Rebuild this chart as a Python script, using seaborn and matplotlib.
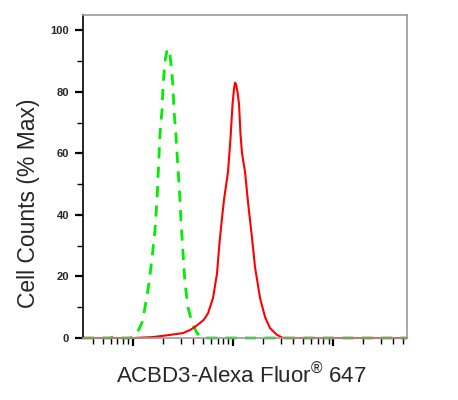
import matplotlib
matplotlib.use("Agg")
import matplotlib.pyplot as plt
from matplotlib.ticker import LogLocator, MultipleLocator, NullFormatter
import seaborn as sns
import pandas as pd

# isotype control (green, dashed)
ctrl_x = [31.6, 59, 66, 74, 93, 100, 110, 123, 132, 145, 155, 166, 174, 178, 186, 195,
          200, 209, 219, 224, 234, 245, 251, 257, 269, 282, 295, 302, 316, 331, 355,
          389, 437, 490, 661, 55000]
ctrl_y = [0, 0, 0.5, 0, 0, 0.3, 1.6, 4.9, 10, 18, 26, 35, 45, 52, 66, 74,
          82, 90, 93.5, 94, 92.5, 86, 82, 74, 66, 55, 45, 38, 28, 18, 10,
          4.9, 1.6, 0, 0, 0]

# ACBD3 stained sample (red)
acbd3_x = [31.6, 100, 158, 234, 316, 372, 417, 468, 513, 562, 631, 692, 733, 776, 813,
           891, 944, 989, 1023, 1047, 1072, 1109, 1148, 1189, 1230, 1318, 1413, 1531,
           1660, 1862, 2089, 2344, 2754, 3162, 55000]
acbd3_y = [0, 0, 0.3, 1, 1.6, 2.6, 3.6, 4.9, 6, 8, 13, 21, 31, 39, 45,
           54, 65, 76, 81, 83, 82.5, 80, 76, 66, 60, 54, 44, 34,
           23, 13, 6.8, 3.2, 1, 0, 0]

ctrl = pd.DataFrame({"x": ctrl_x, "y": ctrl_y})
acbd3 = pd.DataFrame({"x": acbd3_x, "y": acbd3_y})

sns.set_style("ticks")
plt.rcParams["font.family"] = ["Liberation Sans", "DejaVu Sans"]
plt.rcParams["mathtext.fontset"] = "custom"
plt.rcParams["mathtext.rm"] = "Liberation Sans"
plt.rcParams["mathtext.it"] = "Liberation Sans"

fig = plt.figure(figsize=(4.58, 4.0), dpi=100)
ax = fig.add_axes([0.181, 0.155, 0.708, 0.8075])

sns.lineplot(data=ctrl, x="x", y="y", ax=ax, color="#00ee00", lw=2.0,
             sort=False, estimator=None, clip_on=False)
ax.lines[-1].set_dashes([4, 3])
sns.lineplot(data=acbd3, x="x", y="y", ax=ax, color="#ff0000", lw=1.5,
             sort=False, estimator=None, clip_on=False)

ax.set_xscale("log")
ax.set_xlim(10 ** 1.5, 10 ** 4.74)
ax.set_ylim(0, 105)

ax.xaxis.set_major_locator(LogLocator(base=10, numticks=10))
ax.xaxis.set_minor_locator(LogLocator(base=10, subs=range(2, 10), numticks=20))
ax.xaxis.set_major_formatter(NullFormatter())
ax.xaxis.set_minor_formatter(NullFormatter())
ax.yaxis.set_major_locator(MultipleLocator(20))
ax.yaxis.set_minor_locator(MultipleLocator(10))

ax.tick_params(axis="both", which="major", direction="out", length=6, width=1.6,
               color="black", labelsize=8, pad=4)
ax.tick_params(axis="both", which="minor", direction="out", length=4, width=1.0,
               color="black")
for lbl in ax.get_yticklabels():
    lbl.set_fontweight("bold")

for side in ["top", "right", "bottom"]:
    ax.spines[side].set_color("#9a9a9a")
    ax.spines[side].set_linewidth(1.2)
ax.spines["left"].set_color("black")
ax.spines["left"].set_linewidth(1.2)

ax.set_ylabel("Cell Counts (% Max)", fontsize=16.5, va="center")
ax.yaxis.set_label_coords(-0.168, 0.418)
ax.set_xlabel(r"ACBD3-Alexa Fluor$^{\mathrm{®}}$ 647", fontsize=16, va="center")
ax.xaxis.set_label_coords(0.49, -0.118)

fig.savefig("out.png", dpi=100)
